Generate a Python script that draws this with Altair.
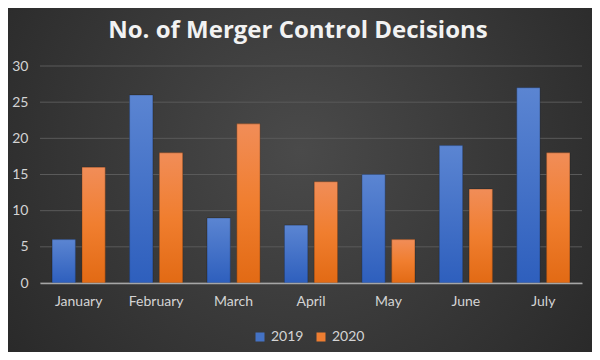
import altair as alt
import pandas as pd

months = ["January", "February", "March", "April", "May", "June", "July"]
years = ["2019", "2020"]
v2019 = [6, 26, 9, 8, 15, 19, 27]
v2020 = [16, 18, 22, 14, 6, 13, 18]
y_ticks = [0, 5, 10, 15, 20, 25, 30]
title_text = "No. of Merger Control Decisions"

rows = []
for m, a, b in zip(months, v2019, v2020):
    rows.append({"month": m, "year": "2019", "value": a})
    rows.append({"month": m, "year": "2020", "value": b})
df = pd.DataFrame(rows)

W, H = 542, 217
PL, PT, PR, PB = 32, 58, 10, 69

bg_grad = {
    "gradient": "radial",
    "x1": 0.5, "y1": 0.45, "r1": 0,
    "x2": 0.5, "y2": 0.45, "r2": 0.75,
    "stops": [
        {"offset": 0, "color": "#4a4a4a"},
        {"offset": 1, "color": "#222222"},
    ],
}
blue_grad = {
    "gradient": "linear", "x1": 0, "y1": 0, "x2": 0, "y2": 1,
    "stops": [{"offset": 0, "color": "#5b85d2"}, {"offset": 1, "color": "#2e5fbd"}],
}
orange_grad = {
    "gradient": "linear", "x1": 0, "y1": 0, "x2": 0, "y2": 1,
    "stops": [{"offset": 0, "color": "#f18d58"}, {"offset": 0.5, "color": "#f07e2f"}, {"offset": 1, "color": "#e26a14"}],
}

FONT = "Lato"
LABEL_COLOR = "#d4d4d4"

bg = alt.Chart(pd.DataFrame({"k": [0]})).mark_rect(fill=bg_grad).encode(
    x=alt.value(-PL), x2=alt.value(W + PR), y=alt.value(-PT), y2=alt.value(H + PB)
)

title = alt.Chart(pd.DataFrame({"t": [title_text]})).mark_text(
    font="Open Sans", fontSize=24, fontWeight="bold", color="#f2f2f2", align="center", baseline="alphabetic"
).encode(text="t:N", x=alt.value(W / 2 - 13), y=alt.value(-28))

yscale = alt.Scale(domain=[0, 30])
yaxis = alt.Axis(title=None, values=y_ticks, grid=False, domain=False, ticks=False, labelPadding=12,
                 labelFont=FONT, labelFontSize=14, labelColor=LABEL_COLOR, zindex=1)

grid = alt.Chart(pd.DataFrame({"value": y_ticks})).mark_rule(color="#5a5a5a", strokeWidth=1).encode(
    y=alt.Y("value:Q", scale=yscale, axis=yaxis)
)

xenc = alt.X(
    "month:N", sort=months,
    scale=alt.Scale(paddingInner=0.315, paddingOuter=0.157),
    axis=alt.Axis(title=None, labelAngle=0, ticks=False, domainColor="#a6a6a6", domainWidth=1.5,
                  labelPadding=11, labelFont=FONT, labelFontSize=14, labelColor=LABEL_COLOR, zindex=1),
)
xoff = alt.XOffset("year:N", sort=years, scale=alt.Scale(paddingInner=0.22, paddingOuter=0))
yenc = alt.Y("value:Q", scale=yscale, axis=yaxis)

bars_solid = alt.Chart(df).mark_bar().encode(
    x=xenc, xOffset=xoff, y=yenc,
    color=alt.Color("year:N", scale=alt.Scale(domain=years, range=["#4472c4", "#ed7d31"]),
                    legend=alt.Legend(title=None, orient="none", direction="horizontal",
                                      legendX=213, legendY=264, symbolType="square", symbolSize=81,
                                      symbolStrokeWidth=0, labelFont=FONT, labelFontSize=14,
                                      labelColor=LABEL_COLOR, columnPadding=10, labelOffset=4, padding=0)),
)

bars_grad = alt.Chart(df).mark_bar(stroke="#000000", strokeOpacity=0.25, strokeWidth=1).encode(
    x=xenc, xOffset=xoff, y=yenc,
    fill=alt.condition("datum.year == '2019'", alt.value(blue_grad), alt.value(orange_grad)),
)

chart = alt.layer(bg, title, grid, bars_solid, bars_grad).properties(
    width=W, height=H,
    autosize=alt.AutoSizeParams(type="none"),
    padding={"left": PL, "top": PT, "right": PR, "bottom": PB},
    background="#2a2a2a",
).configure_view(stroke=None)

chart.save("out.html", embed_options={"renderer": "svg", "actions": False})
